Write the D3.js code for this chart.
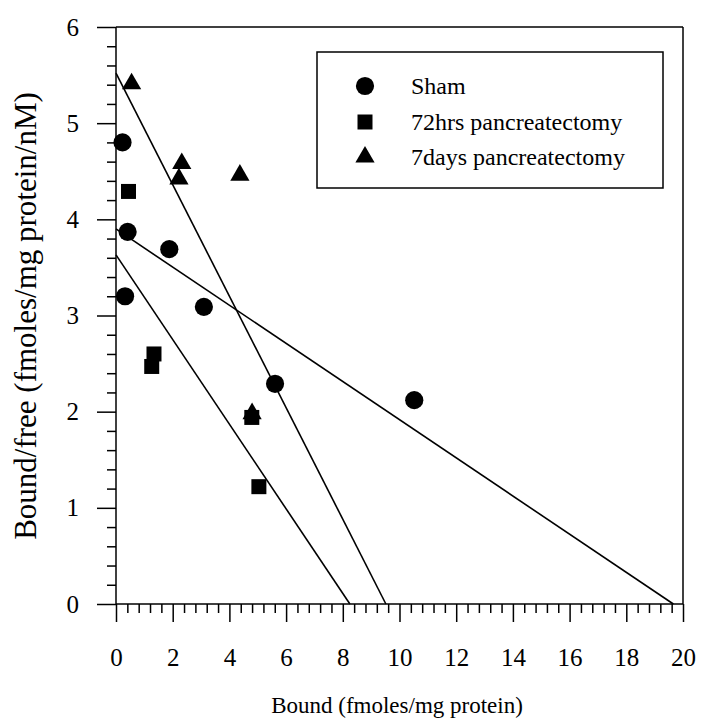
<!DOCTYPE html>
<html>
<head>
<meta charset="utf-8">
<script src="https://cdn.jsdelivr.net/npm/d3@7/dist/d3.min.js"></script>
<style>
  html, body { margin: 0; padding: 0; background: #fff; }
  svg { display: block; }
  text { font-family: "Liberation Serif", "Times New Roman", serif; fill: #000; }
</style>
</head>
<body>
<svg id="chart" width="703" height="727"></svg>
<script>
// Scatchard plot: bound/free vs bound for three groups, with fitted lines
const seriesNames = ["Sham", "72hrs pancreatectomy", "7days pancreatectomy"];

const shamBound = [0.23, 0.41, 1.88, 0.32, 3.10, 5.61, 10.52];
const shamRatio = [4.80, 3.87, 3.69, 3.20, 3.09, 2.29, 2.12];

const hrs72Bound = [0.44, 1.34, 1.26, 4.79, 5.04];
const hrs72Ratio = [4.29, 2.60, 2.47, 1.94, 1.22];

const days7Bound = [0.55, 2.32, 2.22, 4.37, 4.80];
const days7Ratio = [5.41, 4.58, 4.42, 4.46, 1.98];

// Fitted lines: bound/free at zero bound, and bound at zero bound/free (Bmax)
const fitYIntercept = [3.90, 3.63, 5.52];
const fitXIntercept = [19.66, 8.25, 9.52];

const xTickValues = [0, 2, 4, 6, 8, 10, 12, 14, 16, 18, 20];
const yTickValues = [0, 1, 2, 3, 4, 5, 6];

const svg = d3.select("#chart");
const plotL = 116, plotR = 683, plotT = 27, plotB = 604;

const x = d3.scaleLinear().domain([0, 20]).range([plotL, plotR]);
const y = d3.scaleLinear().domain([0, 6]).range([plotB, plotT]);

// Minor ticks
const xMinor = d3.range(0, 20.001, 0.4).filter(v => Math.abs(v / 2 - Math.round(v / 2)) > 1e-6);
const yMinor = d3.range(0, 6.001, 0.2).filter(v => Math.abs(v - Math.round(v)) > 1e-6);

const axisStyle = g => {
  g.selectAll(".domain").remove();
  g.selectAll("line").attr("stroke", "#000").attr("stroke-width", 1.5);
  g.selectAll("text").attr("font-size", 25).attr("font-family", "Liberation Serif, Times New Roman, serif");
};

svg.append("g")
  .attr("transform", `translate(0,${plotB})`)
  .call(d3.axisBottom(x).tickValues(xMinor).tickSize(9).tickFormat(""))
  .call(axisStyle);

svg.append("g")
  .attr("transform", `translate(0,${plotB})`)
  .call(d3.axisBottom(x).tickValues(xTickValues).tickSize(18).tickPadding(26).tickFormat(d3.format("d")))
  .call(axisStyle);

svg.append("g")
  .attr("transform", `translate(${plotL},0)`)
  .call(d3.axisLeft(y).tickValues(yMinor).tickSize(9).tickFormat(""))
  .call(axisStyle);

svg.append("g")
  .attr("transform", `translate(${plotL},0)`)
  .call(d3.axisLeft(y).tickValues(yTickValues).tickSize(19).tickPadding(18).tickFormat(d3.format("d")))
  .call(axisStyle);

// Frame
const frame = svg.append("g").attr("stroke", "#000").attr("stroke-width", 1.5).attr("fill", "none");
frame.append("line").attr("x1", plotL).attr("x2", plotL).attr("y1", plotT).attr("y2", plotB);
frame.append("line").attr("x1", plotL).attr("x2", plotR).attr("y1", plotB).attr("y2", plotB);
frame.append("line").attr("x1", plotL).attr("x2", plotR).attr("y1", plotT).attr("y2", plotT);
frame.append("line").attr("x1", plotR).attr("x2", plotR).attr("y1", plotT).attr("y2", plotB);

// Axis titles
svg.append("text")
  .attr("x", 397).attr("y", 713)
  .attr("text-anchor", "middle")
  .attr("font-size", 23)
  .text("Bound (fmoles/mg protein)");

svg.append("text")
  .attr("transform", "translate(36,316) rotate(-90)")
  .attr("text-anchor", "middle")
  .attr("font-size", 31)
  .text("Bound/free (fmoles/mg protein/nM)");

// Fitted lines
svg.append("g").selectAll("line")
  .data(fitYIntercept.map((b, i) => ({ b, bmax: fitXIntercept[i] })))
  .join("line")
  .attr("x1", d => x(0)).attr("y1", d => y(d.b))
  .attr("x2", d => x(d.bmax)).attr("y2", d => y(0))
  .attr("stroke", "#000").attr("stroke-width", 1.6);

// Markers
const shapes = [
  d3.symbol().type(d3.symbolCircle).size(260),
  d3.symbol().type(d3.symbolSquare).size(225),
  d3.symbol().type(d3.symbolTriangle).size(160)
];

const groups = [
  shamBound.map((b, i) => ({ b, r: shamRatio[i] })),
  hrs72Bound.map((b, i) => ({ b, r: hrs72Ratio[i] })),
  days7Bound.map((b, i) => ({ b, r: days7Ratio[i] }))
];

groups.forEach((pts, k) => {
  svg.append("g").selectAll("path")
    .data(pts)
    .join("path")
    .attr("d", shapes[k]())
    .attr("transform", d => `translate(${x(d.b)},${y(d.r)})`)
    .attr("fill", "#000");
});

// Legend
const legend = svg.append("g");
legend.append("rect")
  .attr("x", 317).attr("y", 52).attr("width", 346).attr("height", 136)
  .attr("fill", "#fff").attr("stroke", "#000").attr("stroke-width", 1.5);

const legendRows = [86, 122, 157];
seriesNames.forEach((name, k) => {
  legend.append("path")
    .attr("d", shapes[k]())
    .attr("transform", `translate(365,${legendRows[k]})`)
    .attr("fill", "#000");
  legend.append("text")
    .attr("x", 411).attr("y", legendRows[k])
    .attr("dominant-baseline", "central")
    .attr("font-size", 24)
    .text(name);
});
</script>
</body>
</html>
